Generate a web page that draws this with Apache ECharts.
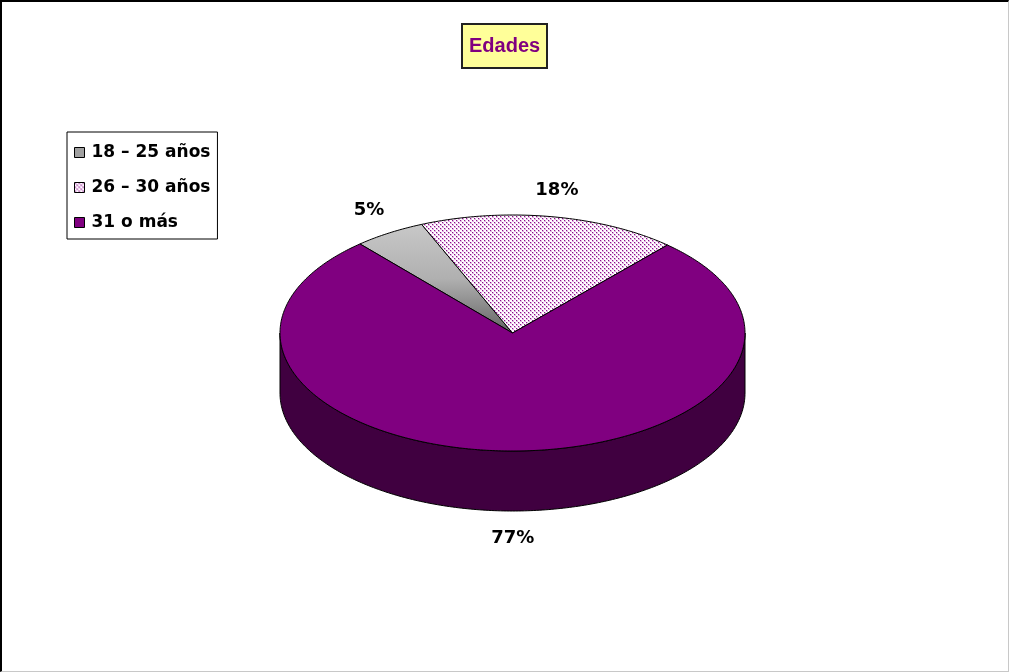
<!DOCTYPE html>
<html><head><meta charset="utf-8">
<script src="https://cdn.jsdelivr.net/npm/echarts@6/dist/echarts.min.js"></script>
<style>
html,body{margin:0;padding:0;background:#fff;}
#frame{width:1009px;height:672px;box-sizing:border-box;border-top:2px solid #000;border-left:2px solid #000;border-right:1px solid #c8c8c8;border-bottom:1px solid #c8c8c8;overflow:hidden;}
#chart{width:1006px;height:669px;}
</style></head><body>
<div id="frame"><div id="chart"></div></div>
<script>
// ---- data ----
const chartTitle = 'Edades';
const categories = ['18 – 25 años', '26 – 30 años', '31 o más'];
const values = [5, 18, 77];
const percentLabels = ['5%', '18%', '77%'];

// ---- layout / style ----
const PIE = { cx: 510.5, cy: 331, rx: 232.5, ry: 118, depth: 60, startAngle: 131 };
const TOP_PURPLE = '#800080';
const SIDE_PURPLE = '#400040';

// dotted pattern for 26-30
const pc = document.createElement('canvas');
pc.width = 4; pc.height = 4;
const pctx = pc.getContext('2d');
pctx.fillStyle = '#ffffff'; pctx.fillRect(0, 0, 4, 4);
pctx.fillStyle = '#e2b4e2';
pctx.fillRect(0, 0, 2, 2); pctx.fillRect(2, 2, 2, 2);
pctx.fillStyle = '#8a108a';
pctx.fillRect(0, 0, 1, 1); pctx.fillRect(2, 2, 1, 1);
const dotPattern = { image: pc, repeat: 'repeat' };

const grayGrad = new echarts.graphic.LinearGradient(0, 0, 0, 1, [
  { offset: 0, color: '#c8c8c8' }, { offset: 0.5, color: '#b0b0b0' }, { offset: 1, color: '#646464' }
]);
const fills = [grayGrad, dotPattern, TOP_PURPLE];
const legendColors = ['#a0a0a0', dotPattern, TOP_PURPLE];

const total = values.reduce((a, b) => a + b, 0);
const rad = d => d * Math.PI / 180;
function pt(deg, dy) {
  return [PIE.cx + PIE.rx * Math.cos(rad(deg)), PIE.cy - PIE.ry * Math.sin(rad(deg)) + (dy || 0)];
}
function arc(from, to, dy) {
  const n = Math.max(2, Math.ceil(Math.abs(from - to) / 0.75));
  const out = [];
  for (let i = 0; i <= n; i++) out.push(pt(from + (to - from) * i / n, dy));
  return out;
}

function makeRender(idx) {
  return function (params, api) {
    let before = 0;
    for (let k = 0; k < idx; k++) before += values[k];
    const v = api.value(0);
    const a1 = PIE.startAngle - before / total * 360;
    const a2 = a1 - v / total * 360;
    const children = [];
    // side walls (front, lower half)
    for (let k = -2; k <= 2; k++) {
      const lo = Math.max(a2, -180 + 360 * k), hi = Math.min(a1, 360 * k);
      if (hi - lo > 0.01) {
        const pts = arc(hi, lo, 0).concat(arc(lo, hi, PIE.depth));
        children.push({ type: 'polygon', z2: 1, shape: { points: pts },
          style: { fill: SIDE_PURPLE, stroke: '#000', lineWidth: 1 } });
      }
    }
    // top face
    const top = [[PIE.cx, PIE.cy]].concat(arc(a1, a2, 0));
    children.push({ type: 'polygon', z2: 10, shape: { points: top },
      style: { fill: fills[idx], stroke: '#000', lineWidth: 1 } });
    // label
    const mid = (a1 + a2) / 2;
    const s = Math.sin(rad(mid)), c = Math.cos(rad(mid));
    const base = pt(mid, s < 0 ? PIE.depth : 0);
    children.push({ type: 'text', z2: 20, style: {
      text: percentLabels[idx], x: base[0] + 27 * c + (idx === 0 ? -6 : 2), y: base[1] - 27 * s,
      align: 'center', verticalAlign: 'middle',
      font: 'bold 18px "DejaVu Sans"', fill: '#000' } });
    return { type: 'group', children: children };
  };
}

const chart = echarts.init(document.getElementById('chart'), null, { renderer: 'canvas' });
chart.setOption({
  animation: false,
  backgroundColor: '#ffffff',
  title: {
    text: chartTitle, left: 460, top: 22,
    backgroundColor: '#ffff99', borderColor: '#222', borderWidth: 2,
    padding: [11, 7],
    textStyle: { color: TOP_PURPLE, fontFamily: '"Liberation Sans", Arial', fontWeight: 'bold', fontSize: 20, lineHeight: 22 }
  },
  legend: {
    orient: 'vertical', left: 65, top: 130,
    padding: [12, 7, 8, 7], itemGap: 18, itemWidth: 10, itemHeight: 10,
    borderColor: '#000', borderWidth: 1, icon: 'rect', selectedMode: false,
    textStyle: { fontFamily: '"DejaVu Sans"', fontWeight: 'bold', fontSize: 17, color: '#000', padding: [0, 0, 0, 2] },
    data: categories.map((c, i) => ({ name: c, itemStyle: { color: legendColors[i], borderColor: '#000', borderWidth: 1 } }))
  },
  series: categories.map((c, i) => ({
    type: 'custom', name: c, coordinateSystem: 'none',
    itemStyle: { color: legendColors[i] },
    renderItem: makeRender(i),
    data: [[values[i]]]
  }))
});
</script>
</body></html>
